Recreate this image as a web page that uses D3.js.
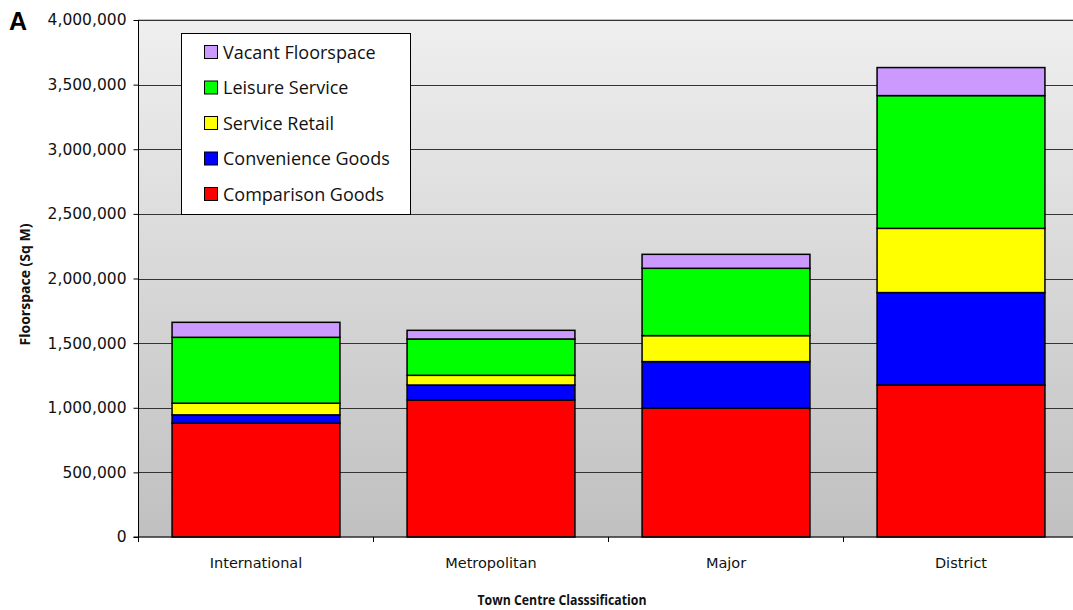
<!DOCTYPE html>
<html>
<head>
<meta charset="utf-8">
<script src="https://cdn.jsdelivr.net/npm/d3@7"></script>
<style>
  html, body { margin: 0; padding: 0; background: #fff; }
  svg { display: block; font-family: "Open Sans", "Noto Sans", sans-serif; }
</style>
</head>
<body>
<svg id="chart" width="1073" height="610"></svg>
<script>
// Town centre floorspace by classification (sq m)
const categories = ["International", "Metropolitan", "Major", "District"];
const seriesNames = ["Comparison Goods", "Convenience Goods", "Service Retail", "Leisure Service", "Vacant Floorspace"];
const seriesColors = ["#ff0000", "#0000ff", "#ffff00", "#00ff00", "#cc99ff"];
const comparisonGoods = [880000, 1060000, 996000, 1176000];
const convenienceGoods = [65000, 116000, 361000, 715000];
const serviceRetail = [90000, 75000, 201000, 497000];
const leisureService = [510000, 281000, 521000, 1027000];
const vacantFloorspace = [116000, 67000, 108000, 217000];
const yTicks = [0, 500000, 1000000, 1500000, 2000000, 2500000, 3000000, 3500000, 4000000];

const seriesValues = [comparisonGoods, convenienceGoods, serviceRetail, leisureService, vacantFloorspace];
const rows = categories.map((c, i) => {
  const r = { category: c };
  seriesNames.forEach((s, j) => { r[s] = seriesValues[j][i]; });
  return r;
});
const stacked = d3.stack().keys(seriesNames)(rows);

const svg = d3.select("#chart");
const plot = { left: 138.5, right: 1078.5, top: 20, bottom: 537 };

const x = d3.scaleBand().domain(categories).range([plot.left, plot.right]).paddingInner(0.4 / 1.4).paddingOuter(0.2 / 1.4);
const y = d3.scaleLinear().domain([0, 4000000]).range([plot.bottom, plot.top]);

// Plot background gradient
const defs = svg.append("defs");
const grad = defs.append("linearGradient").attr("id", "bg").attr("x1", 0).attr("y1", 0).attr("x2", 0).attr("y2", 1);
grad.append("stop").attr("offset", "0%").attr("stop-color", "#efefef");
grad.append("stop").attr("offset", "100%").attr("stop-color", "#c0c0c0");

svg.append("rect")
  .attr("x", plot.left).attr("y", plot.top)
  .attr("width", plot.right - plot.left).attr("height", plot.bottom - plot.top)
  .attr("fill", "url(#bg)")
  .attr("stroke", "#8a8a8a").attr("stroke-width", 1);

// Gridlines
svg.append("g").selectAll("line").data(yTicks.slice(1)).join("line")
  .attr("x1", plot.left).attr("x2", plot.right)
  .attr("y1", d => Math.round(y(d)) + 0.5).attr("y2", d => Math.round(y(d)) + 0.5)
  .attr("stroke", "#333").attr("stroke-width", 1);

// Stacked bars
svg.append("g").selectAll("g").data(stacked).join("g")
  .attr("fill", (d, i) => seriesColors[i])
  .selectAll("rect").data(d => d).join("rect")
  .attr("x", d => x(d.data.category))
  .attr("y", d => y(d[1]))
  .attr("width", x.bandwidth())
  .attr("height", d => y(d[0]) - y(d[1]))
  .attr("stroke", "#000").attr("stroke-width", 1.5);

// Axes
const fmt = d3.format(",");
const yAxis = d3.axisLeft(y).tickValues(yTicks).tickFormat(fmt).tickSize(5).tickPadding(7);
const gy = svg.append("g").attr("transform", `translate(${plot.left},0)`).call(yAxis);
gy.select(".domain").attr("stroke", "#000").attr("d", `M-5,${plot.bottom}H0V${plot.top}`);
gy.selectAll(".tick line").attr("stroke", "#000");
gy.selectAll(".tick text").attr("font-size", 15.5).attr("fill", "#111").attr("font-family", "DejaVu Sans, sans-serif");

const xAxis = d3.axisBottom(x).tickSize(0).tickPadding(21);
const gx = svg.append("g").attr("transform", `translate(0,${plot.bottom})`).call(xAxis);
gx.select(".domain").attr("stroke", "#000").attr("d", `M${plot.left},0H${plot.right}`);
gx.selectAll(".tick text").attr("font-size", 14.5).attr("fill", "#111").attr("font-family", "DejaVu Sans, sans-serif");
// Category boundary ticks
const step = x.step();
const bounds = d3.range(categories.length + 1).map(i => plot.left + i * step);
gx.append("g").selectAll("line").data(bounds).join("line")
  .attr("x1", d => d).attr("x2", d => d).attr("y1", 0).attr("y2", 5)
  .attr("stroke", "#000");

// Axis titles
svg.append("text")
  .attr("transform", `translate(30,${(plot.top + plot.bottom) / 2 + 6}) rotate(-90)`)
  .attr("text-anchor", "middle").attr("font-size", 14).attr("font-weight", "bold").attr("fill", "#111")
  .text("Floorspace (Sq M)");

svg.append("text")
  .attr("x", 562).attr("y", 605)
  .attr("text-anchor", "middle").attr("font-size", 14.5).attr("font-weight", "bold").attr("fill", "#111")
  .attr("textLength", 169).attr("lengthAdjust", "spacingAndGlyphs")
  .text("Town Centre Classsification");

svg.append("text")
  .attr("x", 9).attr("y", 30)
  .attr("font-size", 25).attr("font-weight", "bold").attr("fill", "#000")
  .attr("font-family", "Liberation Sans, Arial, sans-serif")
  .text("A");

// Legend (top series first)
const legend = svg.append("g");
legend.append("rect")
  .attr("x", 181.5).attr("y", 33.5).attr("width", 229).attr("height", 181)
  .attr("fill", "#fff").attr("stroke", "#000").attr("stroke-width", 1);
const legendItems = seriesNames.map((s, i) => ({ name: s, color: seriesColors[i] })).reverse();
const li = legend.selectAll("g.item").data(legendItems).join("g").attr("class", "item")
  .attr("transform", (d, i) => `translate(204,${52 + i * 35.5})`);
li.append("rect").attr("x", 0.5).attr("y", -6.5).attr("width", 13).attr("height", 13)
  .attr("fill", d => d.color).attr("stroke", "#000").attr("stroke-width", 1);
li.append("text").attr("x", 19).attr("y", 6.5).attr("font-size", 18).attr("fill", "#111")
  .text(d => d.name);
</script>
</body>
</html>
